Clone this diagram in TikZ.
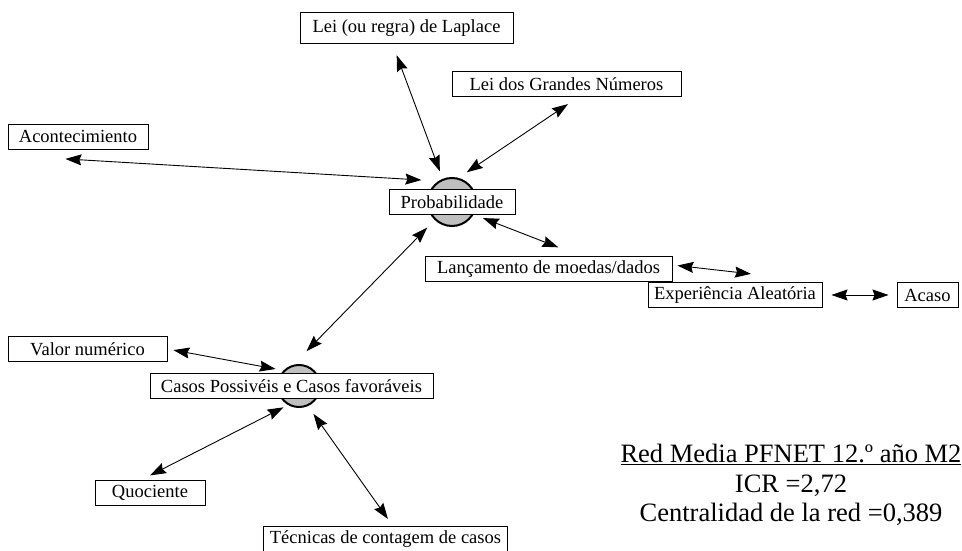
\documentclass[tikz,border=0pt]{standalone}
\usepackage{fontspec}
\setmainfont{Liberation Serif}
\usetikzlibrary{arrows.meta}

\begin{document}
\begin{tikzpicture}[x=1pt,y=-1pt,
    concept/.style={draw, fill=white, line width=1pt, minimum height=25pt, inner xsep=6pt, inner ysep=0pt,
      font=\fontsize{18.5}{20}\selectfont},
    hub/.style={draw, circle, fill=gray!50, line width=2pt, minimum size=48pt, inner sep=0pt},
    stat/.style={anchor=base, inner sep=0pt, font=\fontsize{26.5}{28}\selectfont},
    link/.style={{Stealth[length=16pt,width=11pt,inset=2pt]}-{Stealth[length=16pt,width=11pt,inset=2pt]}, line width=0.9pt}]
    \useasboundingbox (0,0) rectangle (962,551);
    % hubs
    \node[hub] (probC) at (452,202) {};
    \node[concept, minimum width=126pt] (prob) at (452,202) {Probabilidade};
    \node[hub, minimum size=42pt] (casosC) at (299,386) {};
    \node[concept, minimum width=283pt] (casos) at (291.5,386) {Casos Possivéis e Casos favoráveis};
    % concepts
    \node[concept, minimum width=213pt, minimum height=31pt] (laplace) at (406.5,28) {Lei (ou regra) de Laplace};
    \node[concept, minimum width=229pt] (grandes) at (566.5,84) {Lei dos Grandes Números};
    \node[concept, minimum width=140pt] (acont) at (78,136.5) {Acontecimiento};
    \node[concept, minimum width=247pt] (lanc) at (548.5,269) {Lançamento de moedas/dados};
    \node[concept, minimum width=174pt] (exper) at (735,295) {Experiência Aleatória};
    \node[concept, minimum width=61pt] (acaso) at (927.5,295) {Acaso};
    \node[concept, minimum width=159pt] (valor) at (87.5,349) {Valor numérico};
    \node[concept, minimum width=110pt] (quoc) at (150,492.5) {Quociente};
    \node[concept, minimum width=241pt] (tecn) at (385.5,539) {Técnicas de contagem de casos};
    % legend
    \node[stat] (title) at (791,462) {\underline{Red Media PFNET 12.º año M2}};
    \node[stat] (icr) at (791,492) {ICR =2,72};
    \node[stat] (central) at (791,521) {Centralidad de la red =0,389};
    % links
    \path[link]
      ([yshift=-6pt]acont.south west) edge[shorten <=58pt, shorten >=17pt] (probC.123)
      ([xshift=-14pt]laplace.south) edge[shorten <=12pt, shorten >=8pt] (probC.112)
      ([xshift=12pt]grandes.south) edge[shorten <=12.7pt, shorten >=10pt] (probC.75)
      (probC.-30) edge[shorten <=10pt, shorten >=24pt] (lanc.22)
      ([yshift=4pt]lanc.east) edge[shorten <=5pt, shorten >=72pt] (exper.north east)
      (exper) edge[shorten <=9pt, shorten >=8pt] (acaso)
      (probC.-134) edge[shorten <=10.6pt, shorten >=19pt] (casosC.105)
      (valor.east) edge[shorten <=6pt, shorten >=8pt] (casosC.135)
      (casosC.-120) edge[shorten <=5pt, shorten >=9pt] ([xshift=-8pt]quoc.north)
      (casosC.-66) edge[shorten <=9.5pt, shorten >=8.5pt] ([xshift=7.4pt]tecn.north);
\end{tikzpicture}
\end{document}
